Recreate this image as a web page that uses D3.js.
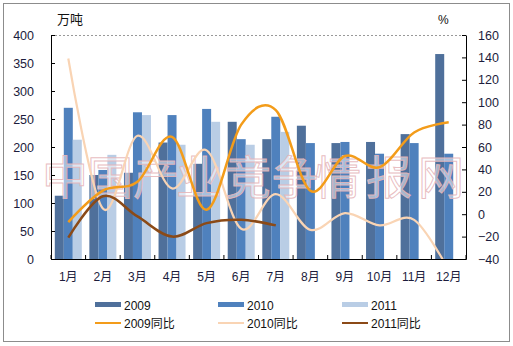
<!DOCTYPE html>
<html><head><meta charset="utf-8">
<script src="https://cdn.jsdelivr.net/npm/d3@7"></script>
<style>body{margin:0;background:#fff}svg{display:block}text{font-family:"Liberation Sans","Noto Sans CJK SC",sans-serif}</style>
</head><body>
<svg id="c" width="513" height="346"></svg>
<script>
const months = ["1月","2月","3月","4月","5月","6月","7月","8月","9月","10月","11月","12月"];
const v2009 = [113,150,154,208,170,245,214,238,207,209,223,366];
const v2010 = [270,159,262,257,268,214,254,207,209,188,207,188];
const v2011 = [213,186,257,204,245,204,227];
const y2009 = [-7,21,29,69,4,80,93,21,52,42,73,82];
const y2010 = [139,5,70,23,57,-13,18,-14,1,-10,-5,-50];
const y2011 = [-21,16,-2,-20,-8,-5,-10];
const leftTicks = [0,50,100,150,200,250,300,350,400];
const rightTicks = [-40,-20,0,20,40,60,80,100,120,140,160];
const watermark = "中国产业竞争情报网";

const svg = d3.select("#c");
const L=51,R=466,T=35,B=259;
svg.append("rect").attr("x",3.5).attr("y",3.5).attr("width",506).attr("height",338)
  .attr("fill","#fff").attr("stroke","#8c8c8c");

const x = d3.scaleBand().domain(months).range([L,R]);
const yl = d3.scaleLinear().domain([0,400]).range([B,T]);
const yr = d3.scaleLinear().domain([-40,160]).range([B,T]);
const bw = 9, pad = (x.bandwidth()-3*bw)/2;

const barSeries = [
  {vals:v2009,color:"#4F709B",i:0},
  {vals:v2010,color:"#4F81BD",i:1},
  {vals:v2011,color:"#B9CDE5",i:2}];

svg.append("line").attr("x1",L).attr("x2",R).attr("y1",yl(400)+0.5).attr("y2",yl(400)+0.5)
  .attr("stroke","#999").attr("stroke-dasharray","2,2");

barSeries.forEach(s=>{
  svg.append("g").selectAll("rect").data(s.vals).join("rect")
    .attr("x",(d,i)=>x(months[i])+pad+s.i*bw)
    .attr("y",d=>yl(d)).attr("width",bw).attr("height",d=>B-yl(d))
    .attr("fill",s.color);
});

// watermark
const wmx=[65,110,156,199,248,295,338,389,441];
svg.append("g").selectAll("text").data(watermark.split("")).join("text")
  .attr("x",(d,i)=>wmx[i]).attr("y",194).attr("text-anchor","middle")
  .attr("font-family","Noto Sans CJK SC").attr("font-size",46)
  .attr("fill","rgba(255,255,255,0.5)").attr("stroke","#E6B6BA").attr("stroke-width",1)
  .attr("stroke-opacity",0.9).text(d=>d);

// lines
svg.append("clipPath").attr("id","pc").append("rect").attr("x",L).attr("y",T-5).attr("width",R-L).attr("height",B-T+5);
const line = d3.line().x((d,i)=>x(months[i])+x.bandwidth()/2).y(d=>yr(d)).curve(d3.curveCatmullRom.alpha(0));
const lineSeries=[
  {vals:y2010,color:"#F9D4B4",w:2.2},
  {vals:y2009,color:"#F39C1A",w:2.5},
  {vals:y2011,color:"#8B4A17",w:2.5}];
lineSeries.forEach(s=>{
  svg.append("path").attr("d",line(s.vals)).attr("fill","none").attr("stroke",s.color)
    .attr("stroke-width",s.w).attr("clip-path","url(#pc)");
});

// axes
const tc="#1c1c3c";
const ga=svg.append("g").attr("transform",`translate(${L},0)`).call(d3.axisLeft(yl).tickValues(leftTicks).tickSizeInner(-4).tickSizeOuter(0).tickPadding(17));
const gr=svg.append("g").attr("transform",`translate(${R},0)`).call(d3.axisRight(yr).tickValues(rightTicks).tickSizeInner(-4).tickSizeOuter(0).tickPadding(12));
[ga,gr].forEach(g=>{g.select(".domain").attr("stroke","#000");g.selectAll("line").attr("stroke","#000");
  g.selectAll("text").attr("font-size",12.5).attr("fill",tc).attr("font-family","Liberation Sans");});
const gx=svg.append("g").attr("transform",`translate(0,${B})`).call(d3.axisBottom(x).tickSize(0).tickPadding(13));
gx.select(".domain").attr("stroke","#000");
gx.selectAll("text").attr("font-size",12).attr("fill",tc).attr("font-family","Noto Sans CJK SC");
svg.append("g").selectAll("line").data(d3.range(13)).join("line")
  .attr("x1",i=>L+i*x.step()).attr("x2",i=>L+i*x.step()).attr("y1",B).attr("y2",B-4).attr("stroke","#000");

svg.append("text").attr("x",57).attr("y",24).attr("font-size",13).attr("font-family","Noto Sans CJK SC").attr("fill","#111").text("万吨");
svg.append("text").attr("x",438).attr("y",24).attr("font-size",12).attr("fill","#111").text("%");

// legend
const leg=[
  {t:"2009",c:"#4F709B",bar:true},{t:"2010",c:"#4F81BD",bar:true},{t:"2011",c:"#B9CDE5",bar:true},
  {t:"2009同比",c:"#F39C1A"},{t:"2010同比",c:"#F9D4B4"},{t:"2011同比",c:"#8B4A17"}];
const lx=[95,218,342], ly=[305,323];
leg.forEach((d,i)=>{
  const cx=lx[i%3], cy=ly[Math.floor(i/3)];
  if(d.bar) svg.append("rect").attr("x",cx).attr("y",cy-3).attr("width",26).attr("height",5).attr("fill",d.c);
  else svg.append("line").attr("x1",cx).attr("x2",cx+26).attr("y1",cy).attr("y2",cy).attr("stroke",d.c).attr("stroke-width",2);
  svg.append("text").attr("x",cx+29).attr("y",cy+4.5).attr("font-size",12).attr("fill","#111")
    .attr("font-family","Liberation Sans, Noto Sans CJK SC").text(d.t);
});
</script>
</body></html>
